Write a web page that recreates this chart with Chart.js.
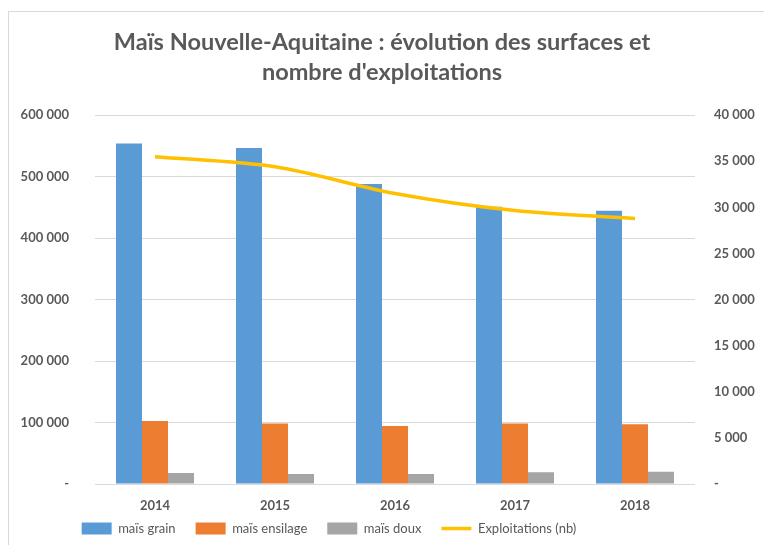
<!DOCTYPE html>
<html>
<head>
<meta charset="utf-8">
<script src="https://cdn.jsdelivr.net/npm/chart.js@4/dist/chart.umd.min.js"></script>
<style>
  html, body { margin: 0; padding: 0; background: #fff; overflow: hidden; }
  #wrap { position: relative; width: 764px; height: 545px; }
  #frame { position: absolute; left: 8px; top: 11px; width: 800px; height: 600px;
           border: 1px solid #d9d9d9; pointer-events: none; }
  canvas { position: absolute; left: 0; top: 0; }
</style>
</head>
<body>
<div id="wrap">
  <div id="frame"></div>
  <canvas id="chart" width="764" height="545"></canvas>
</div>
<script>
const years = ["2014", "2015", "2016", "2017", "2018"];
const maisGrain = [554000, 546500, 488000, 451000, 444500];
const maisEnsilage = [102500, 98600, 94300, 98600, 97000];
const maisDoux = [18000, 16300, 16300, 19100, 20100];
const exploitations = [35500, 34400, 31500, 29650, 28800];

const grey = "#595959";
const fontFamily = "Lato, 'Open Sans', sans-serif";

function fmt(v) {
  if (v === 0) return "-";
  return String(v).replace(/\B(?=(\d{3})+(?!\d))/g, " ");
}

// Excel puts the legend a bit left of centre and tight under the year labels
const legendShift = {
  id: "legendShift",
  afterLayout(chart) {
    const lg = chart.legend;
    lg.left -= 53;
    lg.right -= 53;
    lg.top -= 13;
    lg.bottom -= 13;
  },
};

new Chart(document.getElementById("chart"), {
  type: "bar",
  data: {
    labels: years,
    datasets: [
      {
        type: "line",
        label: "Exploitations (nb)",
        data: exploitations,
        yAxisID: "y2",
        borderColor: "#FFC000",
        backgroundColor: "#FFC000",
        borderWidth: 3.5,
        pointRadius: 0,
        tension: 0.3,
        order: 0,
        pointStyle: "line",
      },
      { label: "maïs grain", data: maisGrain, backgroundColor: "#5B9BD5", yAxisID: "y", order: 1, pointStyle: "rect" },
      { label: "maïs ensilage", data: maisEnsilage, backgroundColor: "#ED7D31", yAxisID: "y", order: 1, pointStyle: "rect" },
      { label: "maïs doux", data: maisDoux, backgroundColor: "#A5A5A5", yAxisID: "y", order: 1, pointStyle: "rect" },
    ],
  },
  options: {
    responsive: false,
    animation: false,
    categoryPercentage: 0.65,
    barPercentage: 1,
    layout: { padding: { top: 0, bottom: -13, left: 0, right: 0 } },
    plugins: {
      tooltip: { enabled: false },
      title: {
        display: true,
        text: ["Maïs Nouvelle-Aquitaine : évolution des surfaces et", "nombre d'exploitations"],
        color: grey,
        font: { family: fontFamily, size: 23.5, weight: "bold", lineHeight: 1.28 },
        padding: { top: 27, bottom: 28 },
      },
      legend: {
        position: "bottom",
        labels: {
          color: grey,
          font: { family: fontFamily, size: 13 },
          usePointStyle: true,
          pointStyleWidth: 30,
          boxHeight: 12,
          padding: 20,
          sort: (a, b) => (a.datasetIndex === 0) - (b.datasetIndex === 0),
        },
      },
    },
    scales: {
      x: {
        grid: { display: false },
        border: { display: false },
        ticks: { color: grey, font: { family: fontFamily, size: 13, weight: "bold" }, padding: 6 },
        afterFit(axis) { axis.height = 31; },
      },
      y: {
        position: "left",
        min: 0,
        max: 600000,
        grid: { color: "#d9d9d9", drawTicks: false },
        border: { display: false },
        ticks: {
          stepSize: 100000,
          color: grey,
          padding: 26,
          font: { family: fontFamily, size: 13, weight: "bold" },
          callback: (v) => fmt(v),
        },
        afterFit(axis) { axis.width = 95; },
      },
      y2: {
        position: "right",
        min: 0,
        max: 40000,
        grid: { display: false, drawTicks: false },
        border: { display: false },
        ticks: {
          stepSize: 5000,
          color: grey,
          padding: 19,
          font: { family: fontFamily, size: 13, weight: "bold" },
          callback: (v) => fmt(v),
        },
        afterFit(axis) { axis.width = 69; },
      },
    },
  },
  plugins: [legendShift],
});
</script>
</body>
</html>
